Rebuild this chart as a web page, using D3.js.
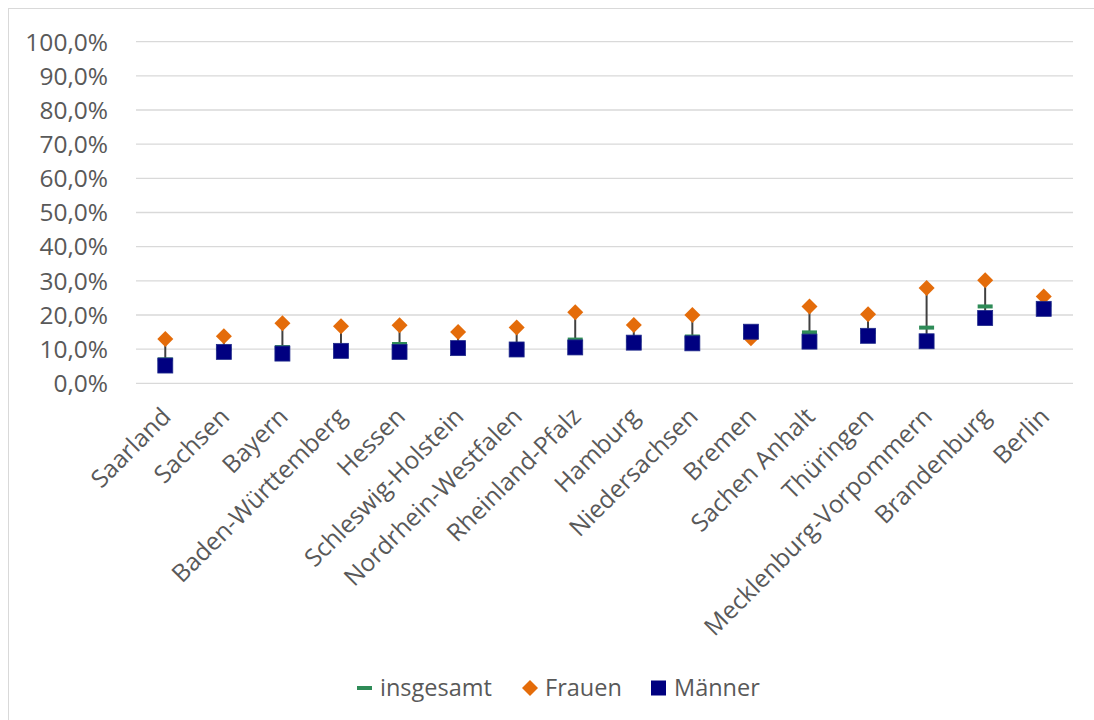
<!DOCTYPE html>
<html><head><meta charset="utf-8">
<script src="https://cdn.jsdelivr.net/npm/d3@7"></script>
<style>body{margin:0;background:#fff;} svg{display:block;} text{font-family:"Open Sans",sans-serif;fill:#595959;}</style>
</head><body><svg id="c" width="1094" height="720"></svg>
<script>
const categories = ["Saarland","Sachsen","Bayern","Baden-Württemberg","Hessen","Schleswig-Holstein","Nordrhein-Westfalen","Rheinland-Pfalz","Hamburg","Niedersachsen","Bremen","Sachen Anhalt","Thüringen","Mecklenburg-Vorpommern","Brandenburg","Berlin"];
const insgesamt = [7.0, 10.0, 10.6, 10.5, 11.5, 11.0, 11.0, 12.8, 12.5, 13.7, 14.2, 14.9, 15.0, 16.3, 22.5, 23.0];
const frauen    = [13.0, 13.8, 17.6, 16.7, 17.0, 15.0, 16.3, 20.8, 17.1, 20.0, 13.2, 22.5, 20.2, 27.9, 30.2, 25.4];
const maenner   = [5.2, 9.2, 8.7, 9.5, 9.2, 10.3, 9.9, 10.5, 11.9, 11.7, 15.1, 12.2, 13.9, 12.3, 19.1, 21.8];
const yTicks = [0,10,20,30,40,50,60,70,80,90,100];
const seriesNames = ["insgesamt","Frauen","Männer"];

const svg = d3.select("#c");
svg.append("rect").attr("x",8.5).attr("y",8.5).attr("width",1100).attr("height",720).attr("fill","none").attr("stroke","#d9d9d9").attr("stroke-width",1);

const x = d3.scaleBand().domain(categories).range([136,1073]);
const y = d3.scaleLinear().domain([0,100]).range([383.3,41.7]);
const fmt = v => v.toFixed(1).replace(".",",") + "%";

svg.append("g").selectAll("line").data(yTicks).join("line")
  .attr("x1",136).attr("x2",1073).attr("y1",d=>y(d)).attr("y2",d=>y(d))
  .attr("stroke","#d9d9d9").attr("stroke-width",1.3);

svg.append("g").selectAll("text").data(yTicks).join("text")
  .attr("x",108).attr("y",d=>y(d)).attr("dy","0.36em").attr("text-anchor","end")
  .style("font-size","24.5px").text(fmt);

svg.append("g").selectAll("text").data(categories).join("text")
  .attr("transform",d=>`translate(${x(d)+x.bandwidth()/2+1},${412}) rotate(-45)`)
  .attr("text-anchor","end").attr("dy","0.35em")
  .style("font-size","24.5px").text(d=>d);

const cx = d => x(d)+x.bandwidth()/2;
const rows = categories.map((c,i)=>({c, t:insgesamt[i], f:frauen[i], m:maenner[i]}));

svg.append("g").selectAll("line").data(rows).join("line")
  .attr("x1",d=>cx(d.c)).attr("x2",d=>cx(d.c))
  .attr("y1",d=>y(Math.max(d.t,d.f,d.m))).attr("y2",d=>y(Math.min(d.t,d.f,d.m)))
  .attr("stroke","#404040").attr("stroke-width",2);

svg.append("g").selectAll("rect").data(rows).join("rect")
  .attr("x",d=>cx(d.c)-7.5).attr("y",d=>y(d.t)-2).attr("width",15).attr("height",4)
  .attr("fill","#2e8b57");

svg.append("g").selectAll("path").data(rows).join("path")
  .attr("d",d=>{const X=cx(d.c),Y=y(d.f),r=8;return `M${X},${Y-r}L${X+r},${Y}L${X},${Y+r}L${X-r},${Y}Z`;})
  .attr("fill","#e46c0a");

svg.append("g").selectAll("rect.m").data(rows).join("rect")
  .attr("x",d=>cx(d.c)-7.5).attr("y",d=>y(d.m)-7.5).attr("width",15).attr("height",15)
  .attr("fill","#000080").attr("stroke","#1f2a8a").attr("stroke-width",0.8);

const lg = svg.append("g");
const ly = 688;
lg.append("rect").attr("x",357).attr("y",ly-2).attr("width",15).attr("height",4).attr("fill","#2e8b57");
lg.append("text").attr("x",380).attr("y",ly).attr("dy","0.35em").style("font-size","23.5px").text(seriesNames[0]);
lg.append("path").attr("d",`M530,${ly-8}L538,${ly}L530,${ly+8}L522,${ly}Z`).attr("fill","#e46c0a");
lg.append("text").attr("x",545).attr("y",ly).attr("dy","0.35em").style("font-size","23.5px").text(seriesNames[1]);
lg.append("rect").attr("x",651).attr("y",ly-7.5).attr("width",15).attr("height",15).attr("fill","#000080");
lg.append("text").attr("x",674).attr("y",ly).attr("dy","0.35em").style("font-size","23.5px").text(seriesNames[2]);
</script></body></html>
